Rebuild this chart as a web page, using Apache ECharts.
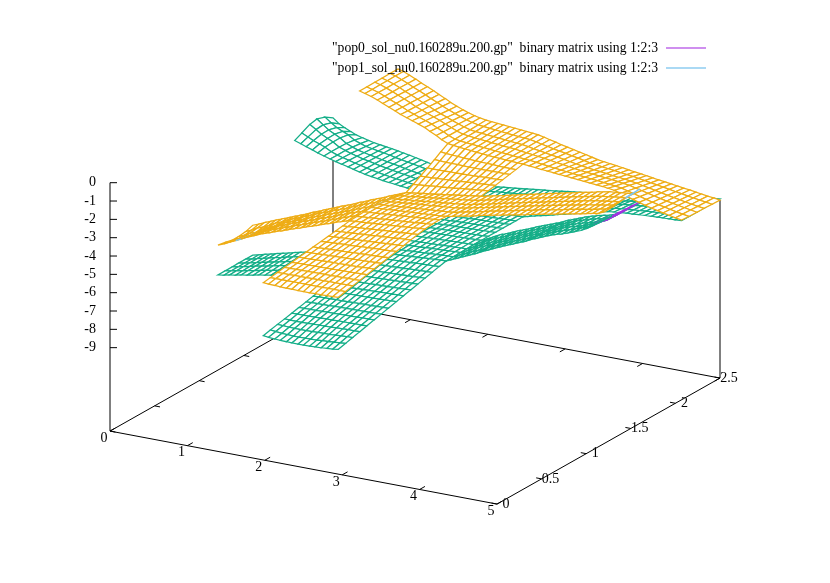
<!DOCTYPE html>
<html>
<head>
<meta charset="utf-8">
<style>html,body{margin:0;background:#fff}#chart{width:830px;height:583px}</style>
<script src="https://cdn.jsdelivr.net/npm/echarts@6/dist/echarts.min.js"></script>
</head>
<body>
<div id="chart"></div>
<script>
var xTicks = [0, 1, 2, 3, 4, 5];
var yTicks = [0, 0.5, 1, 1.5, 2, 2.5];
var zTicks = [0, -1, -2, -3, -4, -5, -6, -7, -8, -9];
var baseZ = -13.55;
var backCornerZ = -3.34;
var rightCornerZ = -3.84;
var pop0Name = '"pop0_sol_nu0.160289u.200.gp"  binary matrix using 1:2:3';
var pop1Name = '"pop1_sol_nu0.160289u.200.gp"  binary matrix using 1:2:3';

// mesh lines of the matrix
var xGrid = [0,.08,.15,.23,.30,.38,.46,.53,.61,.69,.76,.84,.91,.99,1.07,1.14,1.22,1.30,1.37,1.45,1.52,1.60,1.68,1.75,1.83,1.90,1.98,2.05,2.13,2.2,2.28,2.35,2.43,2.5,2.58,2.65,2.73,2.8,2.88,2.95,3.03,3.11,3.19,3.27,3.35,3.42,3.50,3.58,3.66,3.74,3.82,3.90,3.98,4.05,4.13,4.21,4.29,4.37,4.45,4.53,4.61,4.69,4.76,4.84,4.92,5];
var yGrid = [0,.08,.16,.24,.32,.40,.48,.56,.65,.73,.81,.89,.97,1.05,1.13,1.21,1.29,1.37,1.44,1.52,1.60,1.68,1.76,1.84,1.92,1.99,2.07,2.15,2.24,2.32,2.41,2.5];

// surface values, all stored as -z*100 (rows go with yGrid, columns with xGrid)
var pop0Stem = [ // rows 0-14, columns 26-39
[677,680,683,685,686,687,687,687,686,685,683,681,678,674],
[668,671,674,676,677,677,677,676,675,673,671,669,667,664],
[659,661,663,664,664,664,663,662,661,660,658,657,655,654],
[651,652,653,653,652,651,650,649,648,647,646,645,645,644],
[642,642,641,641,640,639,638,638,637,636,636,635,635,634],
[633,632,631,631,630,629,629,628,627,627,626,625,625,624],
[624,623,622,622,621,620,619,619,618,617,616,616,615,614],
[615,614,613,612,611,611,610,609,608,607,607,606,605,604],
[605,604,603,602,601,600,599,598,597,597,596,595,594,593],
[597,596,595,594,593,592,590,589,588,587,586,585,584,583],
[588,587,586,585,583,582,581,580,579,578,577,576,574,573],
[579,578,576,575,574,573,572,570,569,568,567,566,564,563],
[570,569,567,566,565,563,562,561,560,558,557,556,554,553],
[561,560,558,557,555,554,553,551,550,548,547,546,544,543],
[553,551,550,548,547,545,544,542,541,539,538,536,535,533]
];
var pop0Band = [ // rows 15-20, columns 0-65
[836,830,824,818,812,806,800,794,788,782,776,768,758,748,736,722,708,693,678,662,646,630,614,598,582,566,550,548,546,544,542,540,538,536,534,532,530,528,526,525,510,495,480,465,450,435,420,405,390,376,362,348,334,320,306,292,278,267,257,245,232,220,205,183,160,136],
[836,829,823,817,810,804,797,791,785,778,772,763,753,743,731,717,703,689,674,658,642,626,610,595,579,563,547,545,543,541,540,538,536,534,532,530,529,527,525,524,509,494,478,464,449,434,420,405,390,376,363,349,335,321,307,293,280,268,258,246,234,222,207,180,157,138],
[836,829,822,815,808,802,795,788,781,774,767,759,749,738,726,713,699,684,669,654,638,622,607,591,576,560,544,542,541,539,537,535,534,532,530,529,527,526,524,523,508,492,476,462,448,433,419,405,390,377,363,350,336,322,308,295,281,270,260,250,238,226,212,192,166,140],
[835,828,821,814,807,799,792,785,778,771,763,754,744,734,722,708,694,680,665,649,634,619,603,588,572,557,542,540,538,536,535,533,531,530,529,527,526,524,523,522,507,491,475,461,446,433,419,405,391,377,364,350,337,323,310,296,283,272,262,253,244,234,221,195,169,143],
[835,828,820,812,805,797,790,782,774,767,758,750,740,729,717,704,690,675,660,645,630,615,600,584,569,554,539,537,536,534,532,530,529,528,527,526,524,523,522,521,506,489,473,459,445,432,418,405,391,378,364,351,338,324,311,298,284,274,264,255,247,236,223,197,171,145],
[835,827,819,811,803,795,787,779,771,763,754,745,735,724,712,699,685,671,656,641,626,611,596,581,566,551,536,534,533,531,530,528,527,526,525,524,523,522,521,520,505,488,471,458,444,431,418,405,391,378,365,352,339,325,312,299,286,275,265,257,250,238,225,199,173,147]
];
var pop0Neck = [ // rows 21-25, columns 26-39
[537,535,534,532,531,529,528,527,526,525,524,523,522,520],
[537,535,534,533,531,530,529,527,526,525,524,523,522,520],
[538,536,535,533,532,530,529,528,527,525,524,523,522,520],
[539,537,535,534,532,531,530,528,527,526,524,523,522,520],
[539,538,536,535,533,532,530,529,527,526,525,523,522,520]
];
var pop0Arm = [ // rows 26-31, columns 0-65
[339,350,361,372,383,393,403,412,420,428,436,444,451,457,462,467,471,475,479,482,490,498,507,515,523,532,540,539,537,536,534,533,531,530,528,526,525,523,522,520,512,503,495,487,478,470,462,453,445,437,428,420,412,404,400,397,394,392,389,387,385,384,382,381,380,378],
[320,336,350,362,374,392,404,413,421,430,437,445,451,457,463,468,473,477,482,486,493,501,510,518,525,534,542,540,538,536,534,532,530,528,526,524,522,520,518,516,508,500,493,486,478,470,462,454,446,438,430,422,415,408,404,401,398,395,392,390,387,386,383,382,380,378],
[298,320,340,356,370,392,404,414,423,432,438,445,452,458,464,469,474,479,485,489,497,504,513,520,528,536,543,541,539,536,534,532,529,527,524,521,519,517,514,512,505,498,491,485,478,469,462,454,447,440,432,425,418,412,408,405,401,398,395,392,389,387,384,383,380,378],
[290,316,338,355,370,394,407,418,426,433,439,446,452,458,464,470,476,482,487,493,500,508,515,523,530,538,545,543,539,537,534,531,528,525,522,519,516,513,511,507,501,495,490,483,477,469,462,455,448,441,434,427,422,416,412,408,405,402,398,395,392,389,386,383,381,378],
[305,330,350,365,378,400,413,423,429,435,440,446,453,459,465,471,477,484,490,496,504,511,518,525,533,540,546,544,540,537,533,531,527,524,520,516,513,510,507,503,498,493,488,482,477,468,462,455,449,443,436,430,425,420,416,412,408,405,401,397,394,390,387,384,381,378],
[334,360,375,390,403,412,420,427,432,437,441,447,453,459,466,472,479,486,493,500,507,514,521,528,535,542,548,545,541,537,533,530,526,522,518,514,510,507,503,499,494,490,486,481,477,468,462,456,450,444,438,432,428,424,420,416,412,408,404,400,396,392,388,385,381,378]
];

var pop1Stem = [ // rows 0-14, columns 26-39
[388,390,391,393,394,394,395,395,395,394,394,393,392,390],
[382,382,382,382,382,382,382,382,382,382,381,381,381,381],
[376,376,376,375,375,375,374,374,374,373,373,373,372,372],
[370,370,369,369,368,368,367,367,367,366,366,365,365,364],
[365,364,363,363,362,361,361,360,359,358,358,357,356,355],
[359,358,357,356,355,354,353,353,352,351,350,349,347,346],
[353,352,351,349,348,347,346,345,344,342,341,340,338,337],
[347,346,344,343,341,340,339,337,336,334,333,331,330,328],
[341,339,338,336,334,333,331,329,328,326,324,323,321,319],
[335,333,331,329,327,325,323,322,320,318,316,314,312,310],
[329,327,325,322,320,318,316,313,311,309,307,304,302,300],
[323,321,318,316,314,311,309,306,304,302,299,297,294,292],
[317,315,312,310,307,305,302,300,297,295,292,290,287,285],
[315,312,310,307,304,302,299,296,294,291,289,286,283,281],
[312,309,307,304,302,299,297,294,292,289,287,284,282,279]
];
var pop1Band = [ // rows 15-20, columns 0-65
[673,660,645,630,615,600,586,573,560,549,538,527,516,505,494,483,472,461,450,439,428,417,406,392,370,345,310,308,306,304,301,299,297,295,293,291,289,287,285,282,275,268,261,254,246,239,232,225,218,211,204,197,190,183,176,169,163,156,149,142,135,129,122,115,108,92],
[680,668,654,640,622,606,591,577,562,550,539,528,516,505,493,482,471,459,448,437,425,414,402,389,368,346,315,313,310,308,305,302,300,297,295,292,290,287,285,281,274,267,260,253,245,238,231,224,217,209,202,195,188,181,174,167,161,154,146,139,132,127,121,114,107,90],
[690,676,662,648,628,610,595,580,564,552,540,528,516,505,493,481,470,458,446,434,422,411,399,385,367,347,321,318,315,312,308,305,302,299,296,293,290,288,284,281,274,266,259,252,244,237,230,222,215,208,200,193,186,179,172,165,158,151,144,137,130,125,119,114,107,85],
[690,676,660,648,630,612,597,582,565,553,541,529,517,504,492,480,468,456,444,432,420,407,395,382,365,348,326,322,319,315,312,309,305,301,298,295,291,288,284,280,273,266,259,251,243,236,228,221,214,206,199,192,184,177,170,162,156,149,141,134,127,123,118,113,108,80],
[685,670,654,642,628,610,597,582,567,555,542,529,517,504,492,479,467,455,442,429,417,404,392,378,364,349,332,327,324,319,315,312,307,304,299,296,291,288,283,280,273,265,258,250,242,235,227,219,212,205,197,190,182,175,168,160,153,146,139,132,125,121,116,113,107,78],
[672,659,646,633,620,607,594,582,569,556,543,530,517,504,491,478,466,453,440,427,414,401,388,375,362,350,337,332,328,323,319,315,310,306,301,297,292,288,283,279,272,264,257,249,241,234,226,218,211,203,195,188,180,173,166,158,151,144,136,129,122,119,115,112,106,76]
];
var pop1Neck = [ // rows 21-25, columns 26-39
[314,310,308,304,301,299,295,292,288,285,281,278,274,271],
[291,289,288,285,284,282,280,278,275,273,271,269,266,264],
[268,268,268,267,266,266,265,264,263,262,260,259,258,256],
[244,246,247,248,248,249,249,250,250,250,249,249,249,248],
[221,225,227,229,231,233,234,236,237,238,239,240,241,241]
];
var pop1Arm = [ // rows 26-31, columns 11-65 (clipped at z=0 further left)
[2,10,20,33,46,60,74,88,99,110,122,134,150,166,183,198,203,207,210,213,216,219,222,224,226,228,230,232,233,236,239,243,246,249,252,255,258,261,264,267,270,273,277,282,292,302,312,322,332,341,348,355,362,369,375],
[2,10,20,34,47,61,76,90,102,114,126,138,153,168,183,196,201,204,207,210,213,216,219,222,224,227,230,233,235,239,243,248,252,256,259,263,266,269,273,276,280,283,287,292,301,310,319,328,337,345,351,358,365,371,377],
[1,9,21,35,48,62,77,92,105,117,130,143,156,170,183,194,198,202,205,208,211,214,217,219,222,226,230,234,238,242,247,253,257,262,267,271,274,278,282,285,289,293,297,302,310,318,326,334,342,349,355,361,367,373,379],
[1,9,21,35,50,64,79,93,107,121,135,147,160,172,183,192,196,199,202,205,208,211,214,217,219,224,230,235,240,246,251,257,263,269,274,278,283,286,290,295,299,302,307,312,319,325,332,339,346,352,358,364,370,375,380],
[0,8,22,36,51,65,80,95,110,124,139,152,163,174,183,190,193,197,200,203,206,209,212,214,217,223,230,236,243,249,255,262,268,275,282,286,291,295,299,304,308,312,317,322,328,333,339,345,351,356,362,367,372,377,382],
[0,8,22,37,52,66,82,97,113,128,143,156,166,176,183,188,191,194,197,200,203,206,209,212,215,222,230,237,245,252,259,267,274,282,289,294,299,303,308,313,318,322,327,332,337,341,346,351,356,360,365,370,375,379,384]
];

// gnuplot style view: data x,y,z to the flat plane of the picture
function project(x, y, z) {
  return [110 + 77.4 * x + 89.2 * y, 182.7 + 14.6 * x - 50.4 * y - 18.33 * z];
}

function buildCells(patches) {
  var grid = yGrid.map(function () { return []; });
  patches.forEach(function (p) {
    p.rows.forEach(function (row, r) {
      row.forEach(function (d, c) { grid[p.row + r][p.col + c] = -d / 100; });
    });
  });
  var cells = [];
  for (var j = 0; j < yGrid.length - 1; j++) {
    for (var i = 0; i < xGrid.length - 1; i++) {
      var corners = [[i, j], [i + 1, j], [i + 1, j + 1], [i, j + 1]];
      var ok = corners.every(function (c) { return grid[c[1]][c[0]] !== undefined; });
      if (!ok) continue;
      var item = [];
      corners.forEach(function (c) {
        var p = project(xGrid[c[0]], yGrid[c[1]], grid[c[1]][c[0]]);
        item.push(p[0], p[1]);
      });
      // far cells first, hidden3d by painting over
      item.push(xGrid[i] * 89.2 - yGrid[j] * 77.4);
      cells.push(item);
    }
  }
  cells.sort(function (a, b) { return a[8] - b[8]; });
  return cells;
}

function meshRenderer(topColor, backColor) {
  return function (params, api) {
    var pts = [];
    for (var k = 0; k < 4; k++) pts.push(api.coord([api.value(k * 2), api.value(k * 2 + 1)]));
    var area = 0;
    for (k = 0; k < 4; k++) {
      var n = pts[(k + 1) % 4];
      area += pts[k][0] * n[1] - n[0] * pts[k][1];
    }
    return {
      type: 'polygon',
      shape: { points: pts },
      style: { fill: '#fff', stroke: area < 0 ? topColor : backColor, lineWidth: 1.25 }
    };
  };
}

// axes box, drawn behind the surfaces
var frameLines = [];
function seg(a, b) { frameLines.push([a[0], a[1], b[0], b[1]]); }
seg(project(0, 0, baseZ), project(5, 0, baseZ));
seg(project(5, 0, baseZ), project(5, 2.5, baseZ));
seg(project(5, 2.5, baseZ), project(0, 2.5, baseZ));
seg(project(0, 2.5, baseZ), project(0, 0, baseZ));
seg(project(0, 0, baseZ), project(0, 0, 0));
seg(project(0, 2.5, baseZ), project(0, 2.5, backCornerZ));
seg(project(5, 2.5, baseZ), project(5, 2.5, rightCornerZ));
xTicks.forEach(function (x) {
  seg(project(x, 0, baseZ), project(x, 0.06, baseZ));
  seg(project(x, 2.5, baseZ), project(x, 2.44, baseZ));
});
yTicks.forEach(function (y) {
  seg(project(0, y, baseZ), project(0.07, y, baseZ));
  seg(project(5, y, baseZ), project(4.93, y, baseZ));
});
zTicks.forEach(function (z) {
  var p = project(0, 0, z);
  seg(p, [p[0] + 7, p[1]]);
});

var labelData = [];
xTicks.forEach(function (x) {
  var p = project(x, 0, baseZ);
  labelData.push({ value: [p[0] - 6, p[1] + 7], text: String(x), align: 'center' });
});
yTicks.forEach(function (y) {
  var p = project(5, y, baseZ);
  labelData.push({ value: [p[0] + 9, p[1]], text: String(y), align: 'center' });
});
zTicks.forEach(function (z) {
  var p = project(0, 0, z);
  labelData.push({ value: [p[0] - 14, p[1]], text: String(z), align: 'right' });
});

var chart = echarts.init(document.getElementById('chart'));
chart.setOption({
  animation: false,
  backgroundColor: '#fff',
  grid: { left: 0, top: 0, width: 830, height: 583 },
  xAxis: { type: 'value', min: 0, max: 830, show: false },
  yAxis: { type: 'value', min: 0, max: 583, inverse: true, show: false },
  legend: {
    data: [pop0Name, pop1Name],
    orient: 'vertical',
    align: 'right',
    right: 119,
    top: 36,
    itemWidth: 40,
    itemHeight: 1,
    itemGap: 6,
    icon: 'rect',
    selectedMode: false,
    textStyle: { fontFamily: 'Liberation Serif', fontSize: 13.67, color: '#000', padding: [0, 3, 0, 0] }
  },
  series: [
    {
      type: 'custom',
      coordinateSystem: 'cartesian2d',
      z: 1,
      silent: true,
      clip: false,
      data: frameLines,
      renderItem: function (params, api) {
        var a = api.coord([api.value(0), api.value(1)]);
        var b = api.coord([api.value(2), api.value(3)]);
        return {
          type: 'line',
          shape: { x1: a[0], y1: a[1], x2: b[0], y2: b[1] },
          style: { stroke: '#000', lineWidth: 1 }
        };
      }
    },
    {
      type: 'custom',
      coordinateSystem: 'cartesian2d',
      z: 1,
      silent: true,
      clip: false,
      data: labelData,
      renderItem: function (params, api) {
        var p = api.coord([api.value(0), api.value(1)]);
        var l = labelData[params.dataIndex];
        return {
          type: 'text',
          style: {
            x: p[0], y: p[1], text: l.text, fill: '#000', align: l.align, verticalAlign: 'middle',
            font: '14px "Liberation Serif"'
          }
        };
      }
    },
    {
      name: pop0Name,
      type: 'custom',
      coordinateSystem: 'cartesian2d',
      z: 2,
      silent: true,
      clip: false,
      progressive: 0,
      itemStyle: { color: '#a020e0' },
      data: buildCells([
        { row: 0, col: 26, rows: pop0Stem },
        { row: 15, col: 0, rows: pop0Band },
        { row: 21, col: 26, rows: pop0Neck },
        { row: 26, col: 0, rows: pop0Arm }
      ]),
      renderItem: meshRenderer('#14ae88', '#a030e0')
    },
    {
      name: pop1Name,
      type: 'custom',
      coordinateSystem: 'cartesian2d',
      z: 3,
      silent: true,
      clip: false,
      progressive: 0,
      itemStyle: { color: '#56b4e9' },
      data: buildCells([
        { row: 0, col: 26, rows: pop1Stem },
        { row: 15, col: 0, rows: pop1Band },
        { row: 21, col: 26, rows: pop1Neck },
        { row: 26, col: 11, rows: pop1Arm }
      ]),
      renderItem: meshRenderer('#eeac14', '#7cc4f0')
    }
  ]
});
</script>
</body>
</html>
